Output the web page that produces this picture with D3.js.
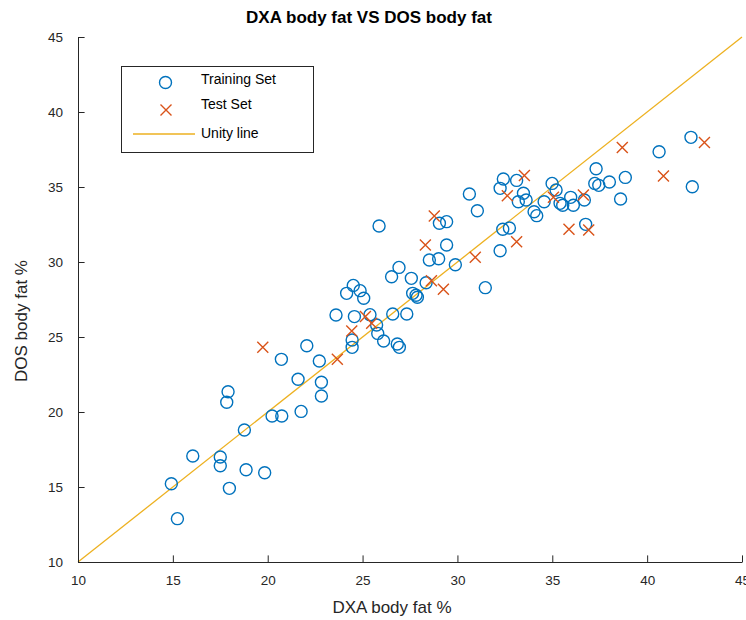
<!DOCTYPE html>
<html>
<head>
<meta charset="utf-8">
<script src="https://cdn.jsdelivr.net/npm/d3@7"></script>
<style>
body{margin:0;background:#fff;}
text{font-family:"Liberation Sans",Arial,Helvetica,sans-serif;}
</style>
</head>
<body>
<svg id="chart" width="746" height="620"></svg>
<script>
const title = "DXA body fat VS DOS body fat";
const xLabel = "DXA body fat %";
const yLabel = "DOS body fat %";
const xTicks = [10,15,20,25,30,35,40,45];
const yTicks = [10,15,20,25,30,35,40,45];
const legendLabels = ["Training Set","Test Set","Unity line"];
const unityLine = [[10,10],[45,45]];

const trainX = [14.92,15.24,16.05,17.5,17.5,17.98,17.91,17.84,18.77,18.86,19.84,20.23,20.74,21.76,20.72,21.6,22.06,22.72,22.83,22.83,
  23.6,24.16,24.51,24.87,25.06,24.57,25.39,25.74,24.45,24.45,25.8,26.11,26.83,26.94,26.59,27.33,26.53,26.92,27.57,27.64,27.82,27.89,28.35,28.52,29.01,29.43,29.89,31.47,25.87,
  32.25,32.39,32.74,29.05,29.43,31.05,30.63,32.42,32.25,33.12,33.48,33.62,33.21,34.04,34.18,34.57,34.99,35.2,35.41,35.55,35.97,36.11,36.69,36.76,37.31,37.24,37.45,38.01,38.85,38.6,40.63,42.31,42.38];
const trainY = [15.22,12.89,17.07,17.0,16.42,14.91,21.35,20.65,18.8,16.15,15.95,19.73,19.73,20.04,23.51,22.18,24.42,23.4,21.98,21.07,
  26.47,27.91,28.44,28.09,27.58,26.36,26.49,25.8,24.8,24.31,25.24,24.73,24.53,24.31,26.53,26.53,29.02,29.64,28.91,27.91,27.78,27.65,28.62,30.13,30.22,31.13,29.82,28.29,32.4,
  30.75,32.18,32.27,32.58,32.69,33.42,34.53,35.53,34.91,35.44,34.58,34.13,34.02,33.35,33.09,34.02,35.24,34.8,33.91,33.78,34.31,33.78,34.13,32.51,36.22,35.24,35.11,35.33,35.64,34.2,37.35,38.31,35.02];
const testX = [19.74,23.67,25.15,25.48,24.43,28.63,29.26,28.31,30.94,33.12,28.78,32.63,33.53,35.06,36.64,35.88,36.92,38.69,40.86,43.02];
const testY = [24.31,23.51,26.36,25.91,25.4,28.75,28.18,31.13,30.31,31.35,33.07,34.42,35.76,34.31,34.47,32.18,32.13,37.64,35.73,37.96];

const C_BLUE = "#0072BD", C_RED = "#D95319", C_YEL = "#EDB120", C_AX = "#262626";
const svg = d3.select("#chart");
const L = 78, R = 742, T = 37, B = 562;
const x = d3.scaleLinear().domain([10,45]).range([L,R]);
const y = d3.scaleLinear().domain([10,45]).range([B,T]);

// unity line
svg.append("line")
  .attr("x1", x(unityLine[0][0])).attr("y1", y(unityLine[0][1]))
  .attr("x2", x(unityLine[1][0])).attr("y2", y(unityLine[1][1]))
  .attr("stroke", C_YEL).attr("stroke-width", 1.3);

// axes
const xAxis = d3.axisBottom(x).tickValues(xTicks).tickSizeInner(-6.6).tickSizeOuter(0).tickPadding(13);
const yAxis = d3.axisLeft(y).tickValues(yTicks).tickSizeInner(-6.6).tickSizeOuter(0).tickPadding(15);
const gx = svg.append("g").attr("transform", `translate(0,${B})`).call(xAxis);
const gy = svg.append("g").attr("transform", `translate(${L},0)`).call(yAxis);
[gx, gy].forEach(g => {
  g.select(".domain").attr("stroke", C_AX).attr("stroke-width", 1);
  g.selectAll(".tick line").attr("stroke", C_AX).attr("stroke-width", 1);
  g.selectAll(".tick text").attr("fill", C_AX).style("font-size", "13.5px")
   .style("font-family", "'Liberation Sans',Arial,sans-serif");
});
gx.selectAll(".tick text").attr("dy", "0.71em");

// training circles
svg.append("g").selectAll("circle").data(trainX.map((v,i)=>[v,trainY[i]])).join("circle")
  .attr("cx", d=>x(d[0])).attr("cy", d=>y(d[1])).attr("r", 6)
  .attr("fill", "none").attr("stroke", C_BLUE).attr("stroke-width", 1.4);

// test crosses
const s = 5.5;
const cross = (g, cx, cy) => {
  g.append("path").attr("d", `M${cx-s},${cy-s}L${cx+s},${cy+s}M${cx-s},${cy+s}L${cx+s},${cy-s}`)
   .attr("stroke", C_RED).attr("stroke-width", 1.4).attr("fill", "none");
};
const gt = svg.append("g");
testX.forEach((v,i) => cross(gt, x(v), y(testY[i])));

// title and labels
svg.append("text").attr("x", 369).attr("y", 23).attr("text-anchor","middle")
  .style("font-size","17px").style("font-weight","bold").attr("fill","#000").text(title);
svg.append("text").attr("x", 392).attr("y", 613).attr("text-anchor","middle")
  .style("font-size","17px").attr("fill", C_AX).text(xLabel);
svg.append("text").attr("transform", `translate(27,321) rotate(-90)`).attr("text-anchor","middle")
  .style("font-size","17px").attr("fill", C_AX).text(yLabel);

// legend
const lg = svg.append("g");
lg.append("rect").attr("x", 121.5).attr("y", 66.5).attr("width", 192).attr("height", 86)
  .attr("fill", "#fff").attr("stroke", C_AX).attr("stroke-width", 1);
lg.append("circle").attr("cx", 165.5).attr("cy", 82.5).attr("r", 6)
  .attr("fill","none").attr("stroke", C_BLUE).attr("stroke-width", 1.4);
cross(lg, 166, 110);
lg.append("line").attr("x1", 133).attr("x2", 195).attr("y1", 134).attr("y2", 134)
  .attr("stroke", C_YEL).attr("stroke-width", 1.3);
const ly = [79, 104, 133];
legendLabels.forEach((t,i) => {
  lg.append("text").attr("x", 201).attr("y", ly[i]).attr("dy","0.35em")
    .style("font-size","14px").attr("fill","#000").text(t);
});
</script>
</body>
</html>
